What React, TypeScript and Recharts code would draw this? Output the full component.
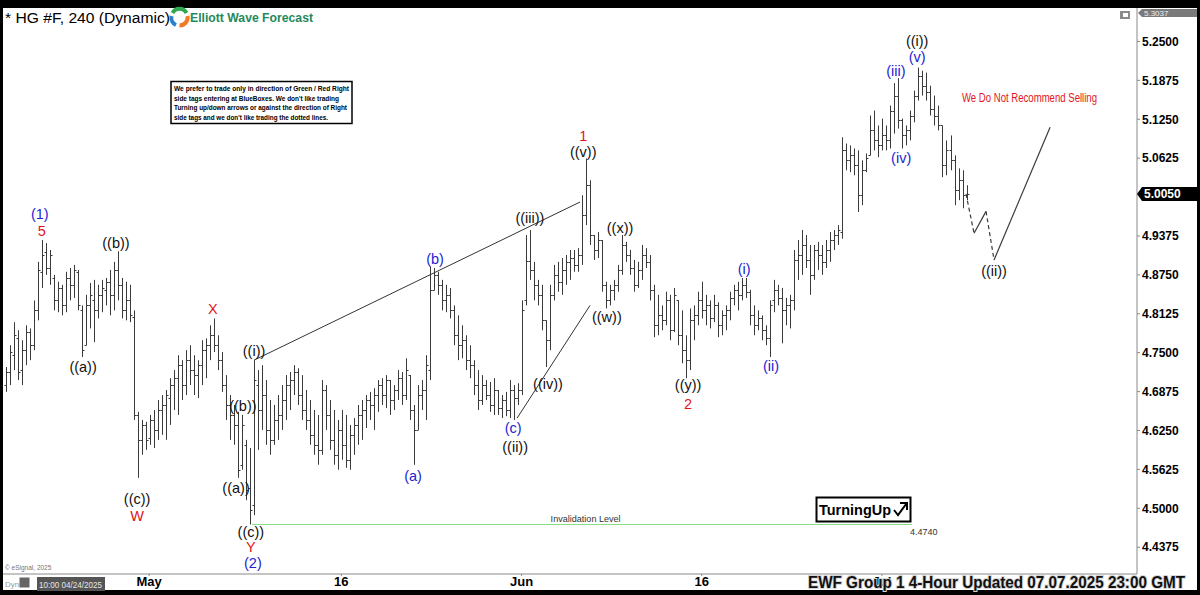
import React from 'react';
import { ComposedChart, Bar, Line, XAxis, YAxis, ReferenceLine, ReferenceDot } from 'recharts';

// OHLC bars, 4-hour HG #F: [open, high, low, close]
const bars: number[][] = [
  [4.698,4.727,4.687,4.719],[4.719,4.762,4.698,4.751],[4.746,4.799,4.722,4.778],[4.773,4.786,4.706,4.719],
  [4.722,4.770,4.698,4.754],[4.754,4.794,4.730,4.783],[4.783,4.789,4.738,4.762],[4.762,4.834,4.754,4.818],
  [4.818,4.896,4.802,4.883],[4.880,4.931,4.854,4.907],[4.912,4.926,4.875,4.886],[4.886,4.915,4.859,4.907],
  [4.870,4.875,4.818,4.834],[4.834,4.864,4.815,4.854],[4.854,4.859,4.810,4.826],[4.826,4.880,4.815,4.870],
  [4.870,4.886,4.834,4.859],[4.859,4.891,4.838,4.883],[4.880,4.883,4.818,4.826],[4.818,4.826,4.743,4.754],
  [4.762,4.843,4.762,4.826],[4.826,4.862,4.789,4.843],[4.834,4.867,4.767,4.818],[4.818,4.859,4.805,4.843],
  [4.843,4.867,4.815,4.854],[4.851,4.870,4.826,4.864],[4.864,4.883,4.810,4.843],[4.843,4.896,4.818,4.883],
  [4.883,4.913,4.834,4.859],[4.859,4.870,4.805,4.818],[4.818,4.864,4.802,4.834],[4.834,4.859,4.799,4.810],
  [4.808,4.818,4.642,4.650],[4.650,4.655,4.549,4.610],[4.610,4.642,4.586,4.634],[4.634,4.639,4.594,4.610],
  [4.613,4.650,4.602,4.642],[4.642,4.658,4.597,4.626],[4.626,4.674,4.610,4.658],[4.658,4.682,4.618,4.666],
  [4.666,4.690,4.610,4.682],[4.677,4.709,4.634,4.698],[4.698,4.722,4.658,4.709],[4.709,4.746,4.650,4.730],
  [4.730,4.738,4.674,4.698],[4.698,4.754,4.682,4.738],[4.738,4.762,4.698,4.722],[4.722,4.746,4.682,4.714],
  [4.714,4.738,4.677,4.730],[4.730,4.770,4.698,4.754],[4.754,4.773,4.709,4.762],[4.762,4.794,4.738,4.778],
  [4.778,4.805,4.751,4.762],[4.762,4.778,4.722,4.738],[4.738,4.751,4.687,4.698],[4.698,4.714,4.642,4.666],
  [4.666,4.682,4.610,4.650],[4.650,4.666,4.602,4.634],[4.634,4.655,4.549,4.562],[4.570,4.650,4.562,4.634],
  [4.602,4.610,4.513,4.530],[4.533,4.597,4.474,4.497],[4.505,4.738,4.489,4.706],[4.698,4.722,4.594,4.658],
  [4.658,4.730,4.626,4.682],[4.682,4.706,4.602,4.626],[4.626,4.674,4.586,4.610],[4.610,4.666,4.602,4.642],
  [4.642,4.682,4.610,4.650],[4.650,4.698,4.626,4.674],[4.674,4.714,4.642,4.698],[4.698,4.719,4.658,4.706],
  [4.706,4.730,4.682,4.719],[4.719,4.725,4.666,4.682],[4.682,4.714,4.642,4.658],[4.658,4.690,4.626,4.642],
  [4.642,4.674,4.602,4.618],[4.618,4.658,4.586,4.602],[4.602,4.650,4.570,4.594],[4.594,4.706,4.586,4.690],
  [4.690,4.698,4.626,4.650],[4.650,4.674,4.594,4.610],[4.610,4.658,4.570,4.586],[4.586,4.642,4.562,4.626],
  [4.626,4.658,4.578,4.602],[4.602,4.650,4.565,4.578],[4.578,4.634,4.562,4.618],[4.618,4.645,4.586,4.634],
  [4.634,4.666,4.602,4.650],[4.650,4.674,4.610,4.658],[4.658,4.682,4.629,4.674],[4.674,4.687,4.642,4.666],
  [4.666,4.693,4.626,4.682],[4.682,4.706,4.655,4.698],[4.698,4.709,4.666,4.682],[4.682,4.714,4.661,4.706],
  [4.706,4.706,4.650,4.674],[4.674,4.698,4.658,4.690],[4.690,4.722,4.674,4.709],[4.709,4.719,4.666,4.682],
  [4.682,4.741,4.674,4.722],[4.714,4.714,4.642,4.658],[4.658,4.666,4.570,4.626],[4.626,4.698,4.626,4.682],
  [4.682,4.706,4.658,4.690],[4.690,4.746,4.642,4.730],[4.722,4.888,4.706,4.850],[4.850,4.886,4.850,4.875],
  [4.875,4.880,4.843,4.859],[4.859,4.867,4.818,4.834],[4.834,4.859,4.815,4.843],[4.843,4.854,4.805,4.818],
  [4.818,4.826,4.762,4.778],[4.778,4.810,4.738,4.762],[4.762,4.794,4.741,4.770],[4.770,4.778,4.722,4.738],
  [4.738,4.762,4.709,4.730],[4.730,4.738,4.682,4.698],[4.698,4.722,4.658,4.674],[4.674,4.714,4.666,4.698],
  [4.698,4.706,4.674,4.682],[4.682,4.703,4.655,4.666],[4.666,4.709,4.650,4.690],[4.690,4.690,4.650,4.661],
  [4.661,4.682,4.645,4.674],[4.674,4.687,4.648,4.658],[4.658,4.706,4.645,4.690],[4.690,4.698,4.642,4.677],
  [4.677,4.701,4.666,4.690],[4.690,4.834,4.682,4.818],[4.834,4.939,4.826,4.898],[4.898,4.947,4.867,4.883],
  [4.883,4.896,4.834,4.859],[4.859,4.867,4.826,4.843],[4.843,4.859,4.786,4.802],[4.802,4.802,4.727,4.770],
  [4.770,4.859,4.754,4.843],[4.843,4.891,4.834,4.875],[4.875,4.896,4.848,4.864],[4.864,4.902,4.843,4.883],
  [4.883,4.907,4.859,4.896],[4.896,4.915,4.867,4.902],[4.902,4.915,4.880,4.891],[4.891,4.918,4.880,4.907],
  [4.907,5.003,4.891,4.971],[4.971,5.062,4.955,5.019],[5.019,5.027,4.923,4.939],[4.939,4.939,4.899,4.915],
  [4.915,4.944,4.902,4.931],[4.931,4.931,4.848,4.859],[4.859,4.864,4.821,4.834],[4.834,4.859,4.826,4.851],
  [4.851,4.867,4.834,4.859],[4.859,4.891,4.848,4.883],[4.883,4.939,4.875,4.923],[4.923,4.928,4.896,4.907],
  [4.907,4.915,4.875,4.886],[4.886,4.899,4.848,4.859],[4.859,4.896,4.854,4.883],[4.883,4.923,4.867,4.907],
  [4.907,4.918,4.886,4.896],[4.896,4.907,4.834,4.851],[4.851,4.859,4.775,4.794],[4.794,4.843,4.778,4.810],
  [4.810,4.826,4.786,4.802],[4.802,4.848,4.794,4.834],[4.834,4.843,4.770,4.786],[4.786,4.854,4.783,4.843],
  [4.834,4.834,4.762,4.778],[4.778,4.818,4.733,4.754],[4.754,4.778,4.709,4.738],[4.738,4.821,4.722,4.802],
  [4.802,4.826,4.770,4.810],[4.810,4.848,4.794,4.834],[4.834,4.864,4.805,4.818],[4.818,4.843,4.794,4.826],
  [4.826,4.834,4.789,4.805],[4.805,4.843,4.799,4.826],[4.826,4.831,4.775,4.794],[4.794,4.818,4.778,4.810],
  [4.810,4.826,4.786,4.818],[4.818,4.848,4.802,4.838],[4.838,4.859,4.826,4.851],[4.851,4.864,4.818,4.843],
  [4.843,4.870,4.834,4.859],[4.859,4.870,4.838,4.848],[4.848,4.851,4.794,4.810],[4.810,4.826,4.778,4.794],
  [4.794,4.818,4.786,4.805],[4.805,4.810,4.770,4.786],[4.786,4.794,4.762,4.773],[4.773,4.834,4.743,4.826],
  [4.834,4.867,4.815,4.851],[4.851,4.859,4.826,4.838],[4.838,4.854,4.765,4.818],[4.818,4.838,4.794,4.826],
  [4.826,4.843,4.789,4.834],[4.834,4.915,4.818,4.899],[4.899,4.931,4.867,4.907],[4.907,4.947,4.875,4.923],
  [4.923,4.939,4.886,4.899],[4.899,4.923,4.843,4.875],[4.875,4.923,4.867,4.915],[4.915,4.928,4.883,4.907],
  [4.907,4.923,4.875,4.896],[4.896,4.931,4.886,4.915],[4.915,4.944,4.896,4.931],[4.931,4.947,4.915,4.939],
  [4.939,4.955,4.923,4.947],[4.944,5.096,4.933,5.075],[5.075,5.086,5.043,5.059],[5.059,5.083,5.040,5.067],
  [5.067,5.078,5.035,5.051],[5.051,5.075,4.976,5.003],[5.003,5.059,4.987,5.043],[5.043,5.070,5.040,5.062],
  [5.067,5.131,5.067,5.107],[5.107,5.139,5.075,5.091],[5.091,5.115,5.064,5.083],[5.083,5.126,5.075,5.099],
  [5.099,5.115,5.075,5.091],[5.091,5.147,5.078,5.139],[5.139,5.183,5.102,5.163],[5.163,5.191,5.110,5.123],
  [5.123,5.126,5.078,5.099],[5.099,5.115,5.083,5.107],[5.107,5.139,5.091,5.131],[5.131,5.171,5.120,5.163],
  [5.163,5.208,5.155,5.195],[5.195,5.203,5.163,5.179],[5.179,5.200,5.155,5.168],[5.168,5.179,5.131,5.142],
  [5.142,5.163,5.115,5.131],[5.131,5.147,5.107,5.115],[5.115,5.115,5.032,5.051],[5.051,5.091,5.035,5.075],
  [5.075,5.099,5.043,5.059],[5.059,5.067,4.987,5.011],[5.011,5.046,4.995,5.027],[5.027,5.043,4.982,5.003],
  [5.003,5.019,4.995,5.005],
];

const yTicks = [4.4375, 4.5, 4.5625, 4.625, 4.6875, 4.75, 4.8125, 4.875, 4.9375, 5.0625, 5.125, 5.1875, 5.25];
const xTickIdx = [36, 84, 129, 174, 219];
const xTickText = ['May', '16', 'Jun', '16', 'Jul'];

// wave labels: [bar index, price, text, colour]
const waveLabels: [number, number, string, string][] = [
  [8.7, 4.972, '(1)', 'b'], [9.2, 4.945, '5', 'r'], [27.7, 4.926, '((b))', 'k'], [19.5, 4.727, '((a))', 'k'],
  [33.0, 4.515, '((c))', 'k'], [33.0, 4.487, 'W', 'r'], [51.9, 4.820, 'X', 'r'], [62.2, 4.752, '((i))', 'k'],
  [59.4, 4.664, '((b))', 'k'], [57.7, 4.532, '((a))', 'k'], [61.4, 4.462, '((c))', 'k'], [61.4, 4.4375, 'Y', 'r'],
  [61.9, 4.412, '(2)', 'b'], [101.9, 4.552, '(a)', 'b'], [107.4, 4.900, '(b)', 'b'], [131.1, 4.967, '((iii))', 'k'],
  [144.4, 5.0975, '1', 'r'], [144.4, 5.072, '((v))', 'k'], [153.6, 4.951, '((x))', 'k'], [150.3, 4.807, '((w))', 'k'],
  [135.6, 4.699, '((iv))', 'k'], [126.9, 4.629, '(c)', 'b'], [127.4, 4.598, '((ii))', 'k'], [170.6, 4.698, '((y))', 'k'],
  [170.6, 4.667, '2', 'r'], [184.6, 4.884, '(i)', 'b'], [191.3, 4.728, '(ii)', 'b'], [222.5, 5.203, '(iii)', 'b'],
  [223.8, 5.062, '(iv)', 'b'], [227.8, 5.251, '((i))', 'k'], [227.8, 5.225, '(v)', 'b'], [247.0, 4.881, '((ii))', 'k'],
];

const projK = [240, 242, 245, 247, 261];
const projP = [5.005, 4.942, 4.977, 4.899, 5.112];
const projDashed = [true, false, true, false];

const channelUpper = [[62.2, 4.738], [143.6, 4.992]];
const channelLower = [[127.9, 4.645], [146.1, 4.826]];
const invalidLevel = 4.474;
const invalidFrom = 61.7;
const invalidTo = 226.5;
const lastPrice = 5.005;
const topPrice = 5.3037;

const FONT = "Arial, 'Liberation Sans', sans-serif";
const COLORS: Record<string, string> = { k: '#111111', b: '#1e1ed2', r: '#e2141a' };

const rows = bars.map((b, i) => ({ k: i, o: b[0], h: b[1], l: b[2], c: b[3] }));

const OhlcShape = (props: any) => {
  const { x, y, width, height, payload } = props;
  if (!payload || x == null || y == null) return null;
  const cx = Math.round(x + (width || 0) / 2) + 0.5;
  const top = Math.min(y, y + height);
  const bot = Math.max(y, y + height);
  const span = payload.h - payload.l;
  const yOf = (v: number) => (span > 0 ? top + ((payload.h - v) / span) * (bot - top) : top);
  const yo = Math.round(yOf(payload.o)) + 0.5;
  const yc = Math.round(yOf(payload.c)) + 0.5;
  return (
    <g stroke="#3a3a3a" strokeWidth={1}>
      <line x1={cx} x2={cx} y1={top} y2={Math.max(bot, top + 1)} />
      <line x1={cx - 2} x2={cx} y1={yo} y2={yo} />
      <line x1={cx} x2={cx + 2} y1={yc} y2={yc} />
    </g>
  );
};

const segments = projDashed.map((d, i) => ({
  dashed: d,
  data: [
    { k: projK[i], p: projP[i] },
    { k: projK[i + 1], p: projP[i + 1] },
  ],
}));

export default function App() {
  return (
    <div style={{ position: 'absolute', left: 0, top: 0, width: 1200, height: 595, background: '#000', overflow: 'hidden' }}>
      <div style={{ position: 'absolute', left: 3, top: 8, width: 1194, height: 582, background: '#fff' }}>
        <ComposedChart width={1194} height={582} data={rows} margin={{ top: 0, right: 0, bottom: 0, left: 0 }}>
          <XAxis
            type="number"
            dataKey="k"
            domain={[-0.5, 282.7]}
            allowDataOverflow
            ticks={xTickIdx}
            interval={0}
            tickFormatter={(v: number) => xTickText[xTickIdx.indexOf(v)] ?? ''}
            height={16}
            tickSize={2}
            tickMargin={1}
            axisLine={{ stroke: '#8a8a8a' }}
            tickLine={{ stroke: '#8a8a8a' }}
            tick={{ fontSize: 13, fontWeight: 'bold', fill: '#000', fontFamily: FONT }}
          />
          <YAxis
            orientation="right"
            width={60}
            domain={[4.3945, topPrice]}
            allowDataOverflow
            ticks={yTicks}
            interval={0}
            tickFormatter={(v: number) => v.toFixed(4)}
            tickSize={3}
            tickMargin={2}
            axisLine={{ stroke: '#8a8a8a' }}
            tickLine={{ stroke: '#8a8a8a' }}
            tick={{ fontSize: 12, fontWeight: 'bold', fill: '#000', fontFamily: FONT }}
          />
          <Bar dataKey={(d: any) => [d.l, d.h]} barSize={3} shape={OhlcShape} isAnimationActive={false} />
          <ReferenceLine
            segment={[{ x: invalidFrom, y: invalidLevel }, { x: invalidTo, y: invalidLevel }]}
            stroke="#86df86"
            strokeWidth={1}
          />
          <ReferenceLine
            segment={[{ x: channelUpper[0][0], y: channelUpper[0][1] }, { x: channelUpper[1][0], y: channelUpper[1][1] }]}
            stroke="#333"
            strokeWidth={1}
          />
          <ReferenceLine
            segment={[{ x: channelLower[0][0], y: channelLower[0][1] }, { x: channelLower[1][0], y: channelLower[1][1] }]}
            stroke="#333"
            strokeWidth={1}
          />
          {segments.map((s, i) => (
            <Line
              key={'seg' + i}
              data={s.data}
              dataKey="p"
              type="linear"
              stroke="#3a3a3a"
              strokeWidth={1.2}
              strokeDasharray={s.dashed ? '4 3' : undefined}
              dot={false}
              activeDot={false}
              isAnimationActive={false}
            />
          ))}
          <ReferenceDot
            x={145}
            y={4.4785}
            r={0}
            ifOverflow="visible"
            shape={(p: any) => (
              <text x={p.cx} y={p.cy} textAnchor="middle" fontSize={9} fill="#333" fontFamily={FONT} textLength={70} lengthAdjust="spacingAndGlyphs">
                Invalidation Level
              </text>
            )}
          />
          <ReferenceDot
            x={226.5}
            y={invalidLevel}
            r={0}
            ifOverflow="visible"
            shape={(p: any) => (
              <text x={p.cx - 2} y={p.cy + 10} textAnchor="start" fontSize={9} fill="#333" fontFamily={FONT}>
                {invalidLevel.toFixed(4)}
              </text>
            )}
          />
          {waveLabels.map(([k, p, t, c], i) => (
            <ReferenceDot
              key={'w' + i}
              x={k}
              y={p}
              r={0}
              ifOverflow="visible"
              shape={(s: any) => (
                <text x={s.cx} y={s.cy} textAnchor="middle" dominantBaseline="central" fontSize={14.5} fill={COLORS[c]} fontFamily={FONT}>
                  {t}
                </text>
              )}
            />
          ))}
          <ReferenceDot
            x={282.7}
            y={lastPrice}
            r={0}
            ifOverflow="visible"
            shape={(p: any) => (
              <g>
                <polygon points={`${p.cx},${p.cy} ${p.cx + 5},${p.cy - 7} ${p.cx + 60},${p.cy - 7} ${p.cx + 60},${p.cy + 7} ${p.cx + 5},${p.cy + 7}`} fill="#000" />
                <text x={p.cx + 7} y={p.cy} dominantBaseline="central" fontSize={12} fontWeight="bold" fill="#fff" fontFamily={FONT}>
                  {lastPrice.toFixed(4)}
                </text>
              </g>
            )}
          />
          <ReferenceDot
            x={282.7}
            y={topPrice}
            r={0}
            ifOverflow="visible"
            shape={(p: any) => (
              <g>
                <polygon points={`${p.cx + 1},${p.cy + 5} ${p.cx + 5},${p.cy + 1} ${p.cx + 60},${p.cy + 1} ${p.cx + 60},${p.cy + 9} ${p.cx + 5},${p.cy + 9}`} fill="#7a7a7a" />
                <text x={p.cx + 7} y={p.cy + 5} dominantBaseline="central" fontSize={8} fill="#eee" fontFamily={FONT}>
                  {topPrice.toFixed(4)}
                </text>
              </g>
            )}
          />
        </ComposedChart>
      </div>
      <svg width={1200} height={595} style={{ position: 'absolute', left: 0, top: 0, pointerEvents: 'none' }}>
        <text x={5} y={23} fontSize={15.5} fill="#000" fontFamily={FONT} textLength={165} lengthAdjust="spacingAndGlyphs">
          * HG #F, 240 (Dynamic)
        </text>
        <circle cx={179.5} cy={17.5} r={10} fill="#fff" />
        <path d="M172.5,13 A8,8 0 0 1 186.5,13" stroke="#2fa84f" strokeWidth={4} fill="none" />
        <path d="M187.5,16 A8,8 0 0 1 179.5,25.5" stroke="#f07a22" strokeWidth={4} fill="none" />
        <path d="M176,25 A8,8 0 0 1 171.5,16" stroke="#2b7fc8" strokeWidth={4} fill="none" />
        <text x={190} y={22} fontSize={13.5} fontWeight="bold" fill="#1f8a5c" fontFamily={FONT} textLength={123} lengthAdjust="spacingAndGlyphs">
          Elliott Wave Forecast
        </text>
        <rect x={1120} y={11} width={10} height={8} fill="#8a8a8a" />
        <rect x={1123} y={13} width={5} height={4} fill="#fff" />
        <rect x={171} y={81.5} width={181} height={42} fill="#fff" stroke="#000" strokeWidth={1.5} />
        <g fontSize={7.6} fontWeight="bold" fill="#000" fontFamily={FONT}>
          <text x={174} y={91} textLength={175} lengthAdjust="spacingAndGlyphs">We prefer to trade only in direction of Green / Red Right</text>
          <text x={174} y={100.8} textLength={165} lengthAdjust="spacingAndGlyphs">side tags entering at BlueBoxes. We don't like trading</text>
          <text x={174} y={110.4} textLength={173} lengthAdjust="spacingAndGlyphs">Turning up/down arrows or against the direction of Right</text>
          <text x={174} y={120} textLength={154} lengthAdjust="spacingAndGlyphs">side tags and we don't like trading the dotted lines.</text>
        </g>
        <text x={962} y={101.5} fontSize={12.5} fill="#e2141a" fontFamily={FONT} textLength={135} lengthAdjust="spacingAndGlyphs">
          We Do Not Recommend Selling
        </text>
        <rect x={816.5} y={497.5} width={94} height={24} fill="#fff" stroke="#000" strokeWidth={2} />
        <text x={819} y={515} fontSize={15.5} fontWeight="bold" fill="#000" fontFamily={FONT} textLength={72} lengthAdjust="spacingAndGlyphs">
          TurningUp
        </text>
        <path d="M894,510 L898,515 L906.5,503.5 M900,503 L907,503 L907,510" stroke="#000" strokeWidth={2} fill="none" />
        <text x={5} y={570} fontSize={6.5} fill="#777" fontFamily={FONT}>© eSignal, 2025</text>
        <text x={5} y={587} fontSize={8} fill="#9a9a9a" fontFamily={FONT}>Dyn</text>
        <rect x={19.5} y={577.5} width={10} height={10} fill="#666" />
        <rect x={37} y={577} width={68} height={14} fill="#555" />
        <text x={39} y={587.5} fontSize={9} fill="#e6e6e6" fontFamily={FONT} textLength={63} lengthAdjust="spacingAndGlyphs">10:00 04/24/2025</text>
        <text
          x={808}
          y={588}
          fontSize={16}
          fontWeight="bold"
          fill="#111"
          stroke="#d8d8d8"
          strokeWidth={2}
          paintOrder="stroke"
          fontFamily={FONT}
          textLength={377}
          lengthAdjust="spacingAndGlyphs"
        >
          EWF Group 1 4-Hour Updated 07.07.2025 23:00 GMT
        </text>
      </svg>
    </div>
  );
}
